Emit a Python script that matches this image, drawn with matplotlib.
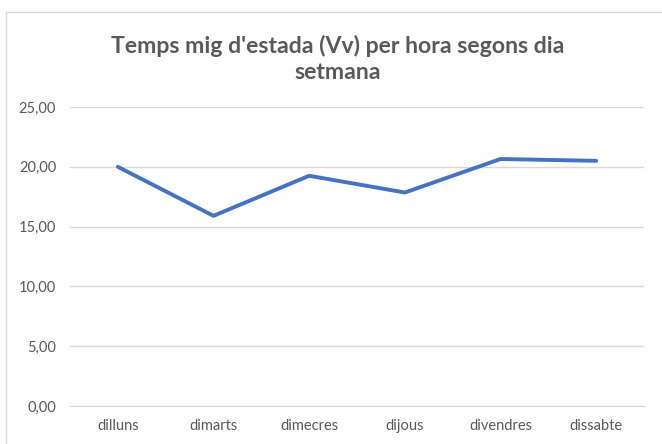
import matplotlib
matplotlib.use("Agg")
import matplotlib.pyplot as plt
from matplotlib.patches import Rectangle
from matplotlib.ticker import FuncFormatter

# dies de la setmana i temps mig d'estada
dies = ['dilluns', 'dimarts', 'dimecres', 'dijous', 'divendres', 'dissabte']
temps = [20.0, 15.9, 19.25, 17.85, 20.65, 20.5]
yticks = [0, 5, 10, 15, 20, 25]

plt.rcParams['font.family'] = ['Lato', 'DejaVu Sans']

fig = plt.figure(figsize=(6.62, 4.44), dpi=100)
fig.patches.append(Rectangle((6 / 662, -0.1), 1.2, 1.1 - 12 / 444,
                             transform=fig.transFigure, fill=False,
                             edgecolor='#d9d9d9', lw=1))

ax = fig.add_axes([70 / 662, 38 / 444, 574 / 662, 299 / 444])
x = list(range(len(dies)))
ax.plot(x, temps, color='#4472c4', lw=2.8, solid_capstyle='round')

ax.set_xlim(-0.5, len(dies) - 0.5)
ax.set_ylim(0, 25)
ax.set_yticks(yticks)
ax.yaxis.set_major_formatter(FuncFormatter(lambda v, p: f"{v:.2f}".replace('.', ',')))
ax.set_xticks(x)
ax.set_xticklabels(dies)
ax.grid(axis='y', color='#d9d9d9', lw=1)
ax.set_axisbelow(True)
for s in ax.spines.values():
    s.set_visible(False)
ax.spines['bottom'].set_visible(True)
ax.spines['bottom'].set_color('#d9d9d9')
ax.tick_params(length=0, labelsize=10.5, colors='#595959')
ax.tick_params(axis='y', pad=10)
ax.tick_params(axis='x', pad=9)

fig.text(338 / 662, 1 - 59 / 444, "Temps mig d'estada (Vv) per hora segons dia\nsetmana",
         ha='center', va='center', fontsize=16.6, fontweight='bold',
         color='#595959', linespacing=1.3)

fig.savefig('out.png', dpi=100)
